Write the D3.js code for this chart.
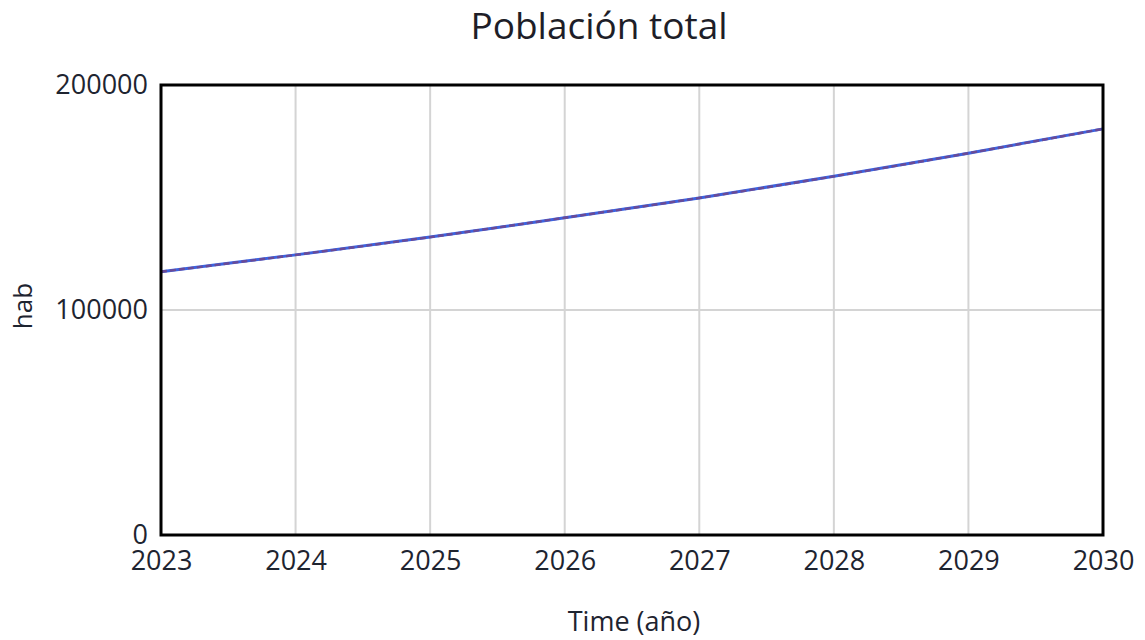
<!DOCTYPE html>
<html>
<head>
<meta charset="utf-8">
<script src="https://cdn.jsdelivr.net/npm/d3@7"></script>
<style>
  body { margin: 0; background: #fff; }
  svg { font-family: "Open Sans", sans-serif; }
</style>
</head>
<body>
<script>
// chart data
const years = [2023, 2024, 2025, 2026, 2027, 2028, 2029, 2030];
const poblacion = [117000, 124500, 132400, 141000, 149800, 159400, 169700, 180500];
const yTicks = [0, 100000, 200000];

const width = 1145, height = 640;
const margin = {top: 85, right: 42, bottom: 105, left: 161};

const svg = d3.select("body").append("svg").attr("width", width).attr("height", height);

const x = d3.scaleLinear().domain([2023, 2030]).range([margin.left, width - margin.right]);
const y = d3.scaleLinear().domain([0, 200000]).range([height - margin.bottom, margin.top]);

// grid
svg.append("g").selectAll("line").data(years.slice(1, -1)).enter().append("line")
  .attr("x1", d => x(d)).attr("x2", d => x(d))
  .attr("y1", y(0)).attr("y2", y(200000))
  .attr("stroke", "#d4d4d4").attr("stroke-width", 2);
svg.append("g").selectAll("line").data(yTicks.slice(1, -1)).enter().append("line")
  .attr("x1", x(2023)).attr("x2", x(2030))
  .attr("y1", d => y(d)).attr("y2", d => y(d))
  .attr("stroke", "#d4d4d4").attr("stroke-width", 2);

// series line (blue with purple dashes on top)
const line = d3.line().x((d, i) => x(years[i])).y(d => y(d)).curve(d3.curveMonotoneX);
svg.append("path").datum(poblacion).attr("d", line)
  .attr("fill", "none").attr("stroke", "#3b63e0").attr("stroke-width", 3);
svg.append("path").datum(poblacion).attr("d", line)
  .attr("fill", "none").attr("stroke", "#6a4a96").attr("stroke-width", 2.4)
  .attr("stroke-dasharray", "6,3");

// frame
svg.append("rect")
  .attr("x", x(2023)).attr("y", y(200000))
  .attr("width", x(2030) - x(2023)).attr("height", y(0) - y(200000))
  .attr("fill", "none").attr("stroke", "#000").attr("stroke-width", 3);

// axes
const xAxis = svg.append("g").attr("transform", `translate(0,${y(0)})`)
  .call(d3.axisBottom(x).tickValues(years).tickFormat(d3.format("d")).tickSize(0).tickPadding(16));
const yAxis = svg.append("g").attr("transform", `translate(${x(2023)},0)`)
  .call(d3.axisLeft(y).tickValues(yTicks).tickFormat(d3.format("d")).tickSize(0).tickPadding(13));
[xAxis, yAxis].forEach(a => {
  a.select(".domain").remove();
  a.selectAll("text").attr("font-size", 27).attr("fill", "#1e2430").attr("font-family", "Open Sans, sans-serif");
});

// titles
svg.append("text").attr("x", 599).attr("y", 39).attr("text-anchor", "middle")
  .attr("font-size", 37).attr("fill", "#1e1e28").text("Población total");
svg.append("text").attr("x", 634).attr("y", 631).attr("text-anchor", "middle")
  .attr("font-size", 27).attr("fill", "#1e2430").text("Time (año)");
svg.append("text").attr("transform", "translate(32,306) rotate(-90)").attr("text-anchor", "middle")
  .attr("font-size", 26).attr("fill", "#1e2430").text("hab");
</script>
</body>
</html>
